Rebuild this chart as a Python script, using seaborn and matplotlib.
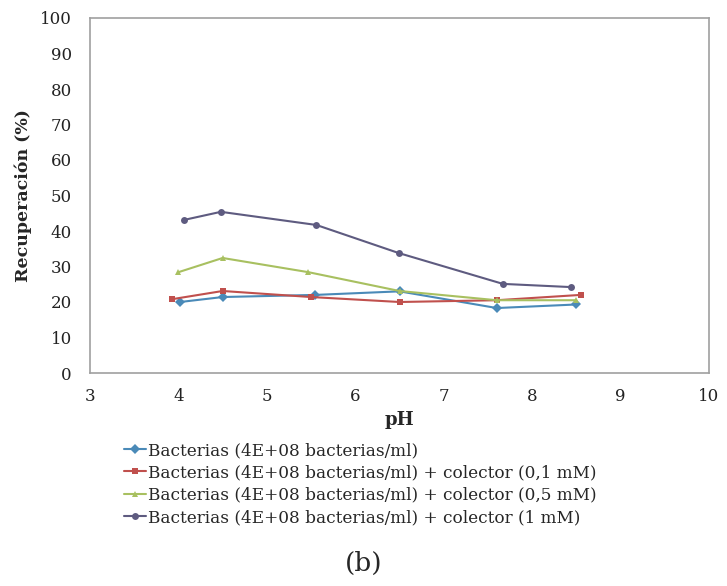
import matplotlib
matplotlib.use("Agg")
import matplotlib.pyplot as plt
import seaborn as sns
import pandas as pd

# pH values and recovery (%) for each series
ph_blue = [4.02, 4.5, 5.55, 6.5, 7.6, 8.5]
rec_blue = [20.0, 21.4, 22.0, 23.0, 18.3, 19.3]

ph_red = [3.93, 4.5, 5.5, 6.5, 7.6, 8.55]
rec_red = [20.8, 23.1, 21.4, 20.0, 20.5, 22.0]

ph_green = [4.0, 4.5, 5.47, 6.5, 7.6, 8.5]
rec_green = [28.4, 32.4, 28.4, 23.1, 20.5, 20.5]

ph_purple = [4.06, 4.48, 5.56, 6.49, 7.67, 8.44]
rec_purple = [43.1, 45.4, 41.7, 33.8, 25.1, 24.2]

labels = [
    "Bacterias (4E+08 bacterias/ml)",
    "Bacterias (4E+08 bacterias/ml) + colector (0,1 mM)",
    "Bacterias (4E+08 bacterias/ml) + colector (0,5 mM)",
    "Bacterias (4E+08 bacterias/ml) + colector (1 mM)",
]
colors = ["#4a8ab8", "#c0504d", "#a8c060", "#5e5b80"]
markers = ["D", "s", "^", "o"]

frames = []
for lab, xs, ys in zip(labels,
                       [ph_blue, ph_red, ph_green, ph_purple],
                       [rec_blue, rec_red, rec_green, rec_purple]):
    frames.append(pd.DataFrame({"pH": xs, "rec": ys, "serie": lab}))
df = pd.concat(frames, ignore_index=True)

sns.set_theme(style="white")
plt.rcParams["font.family"] = ["DejaVu Serif"]

fig = plt.figure(figsize=(7.27, 5.86), dpi=100)
ax = fig.add_axes([90 / 727, 1 - 373 / 586, 619 / 727, 355 / 586])

sns.lineplot(data=df, x="pH", y="rec", hue="serie", style="serie",
             palette=dict(zip(labels, colors)),
             markers=dict(zip(labels, markers)), dashes=False,
             markersize=5, markeredgewidth=0, linewidth=1.5, sort=False,
             ax=ax, legend=False)

ax.set_xlim(3, 10)
ax.set_ylim(0, 100)
ax.set_xticks(range(3, 11))
ax.set_yticks(range(0, 101, 10))
ax.tick_params(axis="both", labelsize=12, colors="#222222", length=0)
ax.tick_params(axis="x", pad=11)
ax.tick_params(axis="y", pad=13)
for s in ax.spines.values():
    s.set_color("#a0a0a0")
    s.set_linewidth(1.2)
ax.set_xlabel("pH", fontsize=13, fontweight="bold", labelpad=4)
ax.set_ylabel("Recuperación (%)", fontsize=12.5, fontweight="bold", labelpad=6)

handles = [plt.Line2D([], [], color=c, marker=m, markersize=5,
                      markeredgewidth=0, linewidth=1.5)
           for c, m in zip(colors, markers)]
fig.legend(handles, labels, loc="upper left",
           bbox_to_anchor=(124 / 727, 1 - 442 / 586),
           frameon=False, fontsize=12.2, handlelength=1.3, handletextpad=0.1,
           labelspacing=0.32, borderaxespad=0, borderpad=0)

fig.text(364 / 727, 1 - 563 / 586, "(b)", ha="center", va="center", fontsize=19)

fig.savefig("out.png", dpi=100)
